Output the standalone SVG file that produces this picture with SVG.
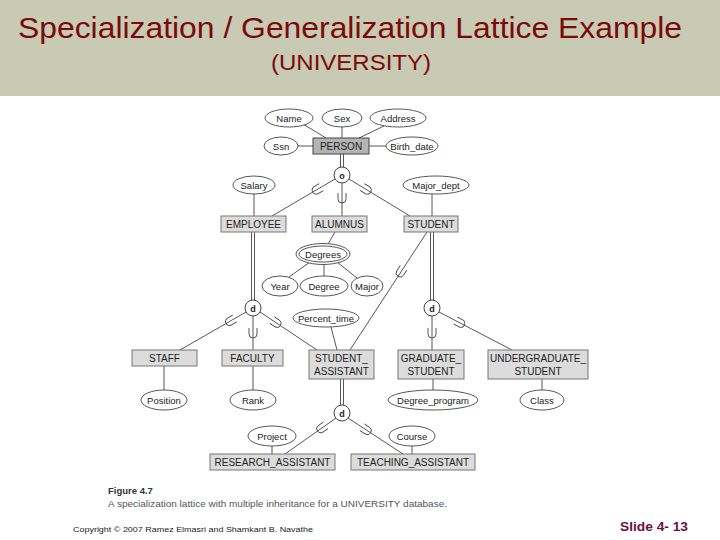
<svg xmlns="http://www.w3.org/2000/svg" width="720" height="540" viewBox="0 0 720 540">
<style>
.ent{fill:#dcdcdc;stroke:#777;stroke-width:1}
.att{fill:#fff;stroke:#444;stroke-width:0.9}
.ln{stroke:#444;stroke-width:0.9;fill:none}
.dbl{stroke:#444;stroke-width:0.9;fill:none}
.cir{fill:#fff;stroke:#444;stroke-width:1}
.t{font-family:"Liberation Sans",Arial,sans-serif;font-size:10px;fill:#222;text-anchor:middle}
.ta{font-family:"Liberation Sans",Arial,sans-serif;font-size:9.5px;fill:#222;text-anchor:middle}
.ct{font-family:"Liberation Sans",Arial,sans-serif;font-size:9px;font-weight:bold;fill:#222;text-anchor:middle}
.sub{stroke:#444;stroke-width:0.9;fill:none}
</style>
<defs>
<path id="sub" class="sub" d="M-4,-6 L-4,0 A4,4 0 0 0 4,0 L4,-6"/>
</defs>
<rect x="0" y="0" width="720" height="96" fill="#c8cab3"/>
<rect x="0" y="96" width="720" height="444" fill="#ffffff"/>
<text x="18" y="38" font-family="Liberation Sans,Arial,sans-serif" font-size="29" fill="#7a0a0a" textLength="664" lengthAdjust="spacingAndGlyphs">Specialization / Generalization Lattice Example</text>
<text x="271" y="70" font-family="Liberation Sans,Arial,sans-serif" font-size="22" fill="#7a0a0a" textLength="160" lengthAdjust="spacingAndGlyphs">(UNIVERSITY)</text>

<g id="connectors">
<line class="ln" x1="303" y1="124" x2="326" y2="138"/>
<line class="ln" x1="342" y1="127" x2="342" y2="138"/>
<line class="ln" x1="384" y1="126" x2="359" y2="138"/>
<line class="ln" x1="298" y1="146" x2="313" y2="146"/>
<line class="ln" x1="369" y1="146" x2="386" y2="146"/>
<line class="dbl" x1="340.5" y1="154" x2="340.5" y2="167"/>
<line class="dbl" x1="343.5" y1="154" x2="343.5" y2="167"/>
<line class="ln" x1="335" y1="179" x2="272" y2="216"/>
<line class="ln" x1="342" y1="183" x2="342" y2="216"/>
<line class="ln" x1="349" y1="179" x2="410" y2="216"/>
<use href="#sub" transform="translate(316.1,190.1) rotate(59.6)"/>
<use href="#sub" transform="translate(342,199)"/>
<use href="#sub" transform="translate(367.3,190.1) rotate(-58.8)"/>
<line class="ln" x1="254" y1="194" x2="254" y2="216"/>
<line class="ln" x1="432" y1="194" x2="432" y2="216"/>
<line class="dbl" x1="251.5" y1="232" x2="251.5" y2="300"/>
<line class="dbl" x1="254.5" y1="232" x2="254.5" y2="300"/>
<line class="dbl" x1="430.5" y1="232" x2="430.5" y2="300"/>
<line class="dbl" x1="433.5" y1="232" x2="433.5" y2="300"/>
<line class="ln" x1="335" y1="232" x2="328" y2="244"/>
<line class="ln" x1="310" y1="262" x2="289" y2="277"/>
<line class="ln" x1="324" y1="264" x2="324" y2="276"/>
<line class="ln" x1="337" y1="262" x2="357" y2="278"/>
<line class="ln" x1="246" y1="312" x2="180" y2="350"/>
<line class="ln" x1="253" y1="316" x2="253" y2="350"/>
<line class="ln" x1="260" y1="312" x2="317" y2="350"/>
<use href="#sub" transform="translate(229.5,321.5) rotate(60.1)"/>
<use href="#sub" transform="translate(253,334)"/>
<use href="#sub" transform="translate(277.1,323.4) rotate(-56.3)"/>
<line class="ln" x1="427" y1="232" x2="350" y2="350"/>
<use href="#sub" transform="translate(400.2,273) rotate(33.1)"/>
<line class="ln" x1="331" y1="327" x2="337" y2="350"/>
<line class="ln" x1="432" y1="316" x2="432" y2="350"/>
<line class="ln" x1="439" y1="312" x2="512" y2="350"/>
<use href="#sub" transform="translate(432,334)"/>
<use href="#sub" transform="translate(460.9,323.4) rotate(-62.5)"/>
<line class="ln" x1="164" y1="366" x2="164" y2="390"/>
<line class="ln" x1="253" y1="366" x2="253" y2="390"/>
<line class="ln" x1="433" y1="379" x2="433" y2="390"/>
<line class="ln" x1="542" y1="379" x2="542" y2="390"/>
<line class="dbl" x1="340.5" y1="379" x2="340.5" y2="405"/>
<line class="dbl" x1="343.5" y1="379" x2="343.5" y2="405"/>
<line class="ln" x1="336" y1="418" x2="285" y2="454"/>
<line class="ln" x1="348" y1="418" x2="403" y2="454"/>
<use href="#sub" transform="translate(320.7,428.8) rotate(54.8)"/>
<use href="#sub" transform="translate(367.3,430.6) rotate(-56.8)"/>
<line class="ln" x1="272" y1="446" x2="272" y2="454"/>
<line class="ln" x1="412" y1="446" x2="412" y2="454"/>
</g>

<g id="circle-o"><circle class="cir" cx="342" cy="175" r="8"/><text class="ct" x="342" y="178.5">o</text></g>
<g id="circle-d1"><circle class="cir" cx="253" cy="308" r="8"/><text class="ct" x="253" y="311.5">d</text></g>
<g id="circle-d2"><circle class="cir" cx="432" cy="308" r="8"/><text class="ct" x="432" y="311.5">d</text></g>
<g id="circle-d3"><circle class="cir" cx="342" cy="413" r="8"/><text class="ct" x="342" y="416.5">d</text></g>

<g id="PERSON"><rect x="313" y="138" width="56" height="16" fill="#b4b4b4" stroke="#444" stroke-width="1"/><text class="t" x="341" y="149.5">PERSON</text></g>
<g id="EMPLOYEE"><rect class="ent" x="221" y="216" width="65" height="16"/><text class="t" x="253.5" y="227.5">EMPLOYEE</text></g>
<g id="ALUMNUS"><rect class="ent" x="312" y="216" width="55" height="16"/><text class="t" x="339.5" y="227.5">ALUMNUS</text></g>
<g id="STUDENT"><rect class="ent" x="404" y="216" width="54" height="16"/><text class="t" x="431" y="227.5">STUDENT</text></g>
<g id="STAFF"><rect class="ent" x="132" y="350" width="65" height="16"/><text class="t" x="164.5" y="361.5">STAFF</text></g>
<g id="FACULTY"><rect class="ent" x="222" y="350" width="61" height="16"/><text class="t" x="252.5" y="361.5">FACULTY</text></g>
<g id="STUDENT_ASSISTANT"><rect class="ent" x="309" y="350" width="65" height="29"/><text class="t" x="341.5" y="362">STUDENT_</text><text class="t" x="341.5" y="375">ASSISTANT</text></g>
<g id="GRADUATE_STUDENT"><rect class="ent" x="398" y="350" width="66" height="29"/><text class="t" x="431" y="362">GRADUATE_</text><text class="t" x="431" y="375">STUDENT</text></g>
<g id="UNDERGRADUATE_STUDENT"><rect class="ent" x="488" y="350" width="100" height="29"/><text class="t" x="538" y="362">UNDERGRADUATE_</text><text class="t" x="538" y="375">STUDENT</text></g>
<g id="RESEARCH_ASSISTANT"><rect class="ent" x="210" y="454" width="125" height="16"/><text class="t" x="272.5" y="465.5">RESEARCH_ASSISTANT</text></g>
<g id="TEACHING_ASSISTANT"><rect class="ent" x="351" y="454" width="124" height="16"/><text class="t" x="413" y="465.5">TEACHING_ASSISTANT</text></g>

<g id="Name"><ellipse class="att" cx="289" cy="118" rx="24" ry="9"/><text class="ta" x="289" y="121.5">Name</text></g>
<g id="Sex"><ellipse class="att" cx="342" cy="118" rx="20" ry="9"/><text class="ta" x="342" y="121.5">Sex</text></g>
<g id="Address"><ellipse class="att" cx="398" cy="118" rx="28" ry="9"/><text class="ta" x="398" y="121.5">Address</text></g>
<g id="Ssn"><ellipse class="att" cx="281" cy="146" rx="17" ry="9"/><text class="ta" x="281" y="149.5">Ssn</text></g>
<g id="Birth_date"><ellipse class="att" cx="412" cy="146" rx="26" ry="9"/><text class="ta" x="412" y="149.5">Birth_date</text></g>
<g id="Salary"><ellipse class="att" cx="254" cy="185" rx="21" ry="9"/><text class="ta" x="254" y="188.5">Salary</text></g>
<g id="Major_dept"><ellipse class="att" cx="436" cy="185" rx="33" ry="9"/><text class="ta" x="436" y="188.5">Major_dept</text></g>
<g id="Degrees"><ellipse class="att" cx="323" cy="254" rx="27" ry="10.5"/><ellipse class="att" cx="323" cy="254" rx="24" ry="8"/><text class="ta" x="323" y="257.5">Degrees</text></g>
<g id="Year"><ellipse class="att" cx="280" cy="286" rx="18" ry="10"/><text class="ta" x="280" y="289.5">Year</text></g>
<g id="Degree"><ellipse class="att" cx="324" cy="286" rx="24" ry="10"/><text class="ta" x="324" y="289.5">Degree</text></g>
<g id="Major"><ellipse class="att" cx="367" cy="286" rx="16" ry="10"/><text class="ta" x="367" y="289.5">Major</text></g>
<g id="Percent_time"><ellipse class="att" cx="326" cy="318" rx="33" ry="9"/><text class="ta" x="326" y="321.5">Percent_time</text></g>
<g id="Position"><ellipse class="att" cx="164" cy="400" rx="23" ry="10"/><text class="ta" x="164" y="403.5">Position</text></g>
<g id="Rank"><ellipse class="att" cx="253" cy="400" rx="23" ry="10"/><text class="ta" x="253" y="403.5">Rank</text></g>
<g id="Degree_program"><ellipse class="att" cx="433" cy="400" rx="45" ry="10"/><text class="ta" x="433" y="403.5">Degree_program</text></g>
<g id="Class"><ellipse class="att" cx="542" cy="400" rx="22" ry="10"/><text class="ta" x="542" y="403.5">Class</text></g>
<g id="Project"><ellipse class="att" cx="272" cy="436" rx="24" ry="10"/><text class="ta" x="272" y="439.5">Project</text></g>
<g id="Course"><ellipse class="att" cx="412" cy="436" rx="23" ry="10"/><text class="ta" x="412" y="439.5">Course</text></g>

<text x="108" y="494" font-family="Liberation Sans,Arial,sans-serif" font-size="9.5" font-weight="bold" fill="#333">Figure 4.7</text>
<text x="108" y="507" font-family="Liberation Sans,Arial,sans-serif" font-size="9.5" fill="#555" textLength="339" lengthAdjust="spacingAndGlyphs">A specialization lattice with multiple inheritance for a UNIVERSITY database.</text>
<text x="73" y="532" font-family="Liberation Sans,Arial,sans-serif" font-size="8" fill="#222" textLength="240" lengthAdjust="spacingAndGlyphs">Copyright © 2007 Ramez Elmasri and Shamkant B. Navathe</text>
<text x="620" y="531" font-family="Liberation Sans,Arial,sans-serif" font-size="13" font-weight="bold" fill="#6a1040" textLength="68" lengthAdjust="spacingAndGlyphs">Slide 4- 13</text>
</svg>
